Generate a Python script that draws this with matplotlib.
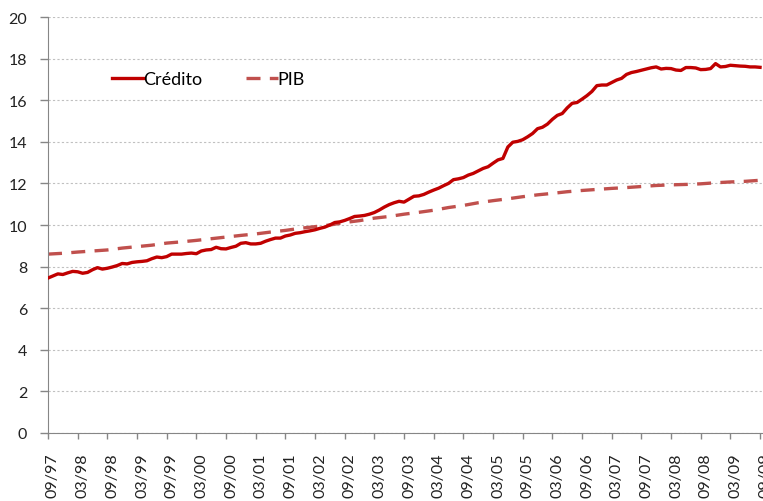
import matplotlib
matplotlib.use("Agg")
import matplotlib.pyplot as plt
import matplotlib.transforms as mtrans
import numpy as np

plt.rcParams['font.family'] = ['Lato', 'DejaVu Sans']

# Monthly Crédito values from 09/97 to 09/09
credito = [
    7.45, 7.55, 7.65, 7.62, 7.70, 7.77, 7.75, 7.68, 7.72, 7.85,
    7.95, 7.88, 7.92, 7.98, 8.05, 8.15, 8.13, 8.20, 8.23, 8.25,
    8.28, 8.38, 8.46, 8.43, 8.48, 8.60, 8.60, 8.60, 8.63, 8.65,
    8.62, 8.75, 8.80, 8.82, 8.93, 8.86, 8.85, 8.92, 8.98, 9.12,
    9.15, 9.09, 9.09, 9.12, 9.22, 9.30, 9.37, 9.37, 9.47, 9.52,
    9.60, 9.63, 9.68, 9.72, 9.77, 9.84, 9.90, 10.00, 10.12, 10.15,
    10.22, 10.31, 10.41, 10.43, 10.46, 10.52, 10.60, 10.72, 10.86, 10.98,
    11.07, 11.14, 11.10, 11.24, 11.38, 11.40, 11.47, 11.58, 11.68, 11.77,
    11.89, 12.00, 12.18, 12.22, 12.28, 12.40, 12.48, 12.60, 12.72, 12.80,
    12.97, 13.13, 13.20, 13.75, 13.98, 14.02, 14.10, 14.24, 14.40, 14.63,
    14.70, 14.85, 15.08, 15.27, 15.36, 15.63, 15.85, 15.89, 16.05, 16.22,
    16.42, 16.70, 16.73, 16.73, 16.85, 16.97, 17.05, 17.24, 17.33, 17.38,
    17.44, 17.50, 17.56, 17.60, 17.50, 17.53, 17.52, 17.45, 17.43, 17.57,
    17.57, 17.55, 17.47, 17.48, 17.52, 17.76, 17.60, 17.62, 17.68, 17.66,
    17.64, 17.63, 17.60, 17.60, 17.58,
]

# Quarterly PIB values from 09/97 to 09/09
pib = [
    8.60, 8.64, 8.70, 8.75, 8.80, 8.89, 8.96, 9.03, 9.13, 9.19,
    9.26, 9.34, 9.42, 9.50, 9.57, 9.66, 9.74, 9.84, 9.92, 10.00,
    10.12, 10.21, 10.33, 10.41, 10.52, 10.61, 10.71, 10.84, 10.94, 11.07,
    11.17, 11.26, 11.36, 11.45, 11.52, 11.60, 11.66, 11.71, 11.76, 11.80,
    11.85, 11.90, 11.93, 11.95, 11.98, 12.03, 12.07, 12.10, 12.15,
]

tick_labels = ["09/97", "03/98", "09/98", "03/99", "09/99", "03/00", "09/00",
               "03/01", "09/01", "03/02", "09/02", "03/03", "09/03", "03/04",
               "09/04", "03/05", "09/05", "03/06", "09/06", "03/07", "09/07",
               "03/08", "09/08", "03/09", "09/09"]

x_cred = np.arange(len(credito))
x_pib = np.arange(len(pib)) * 3

fig = plt.figure(figsize=(7.63, 5.02), dpi=100)
ax = fig.add_axes([48/763, 1-434/502, 715/763, (434-18)/502])

ax.plot(x_cred, credito, color='#C00000', lw=2.4, label='Crédito',
        solid_joinstyle='round', zorder=3)
ax.plot(x_pib, pib, color='#C0504D', lw=2.4, ls=(0, (4.2, 2.8)),
        label='PIB', zorder=2)

ax.set_xlim(0, 144.6)
ax.set_ylim(0, 20)
ax.set_yticks(np.arange(0, 21, 2))
ax.set_xticks(np.arange(0, 145, 6))
ax.set_xticklabels(tick_labels, rotation=90, fontsize=11.5, color='#222222')
ax.tick_params(axis='y', labelsize=11.5, colors='#222222', length=6,
               color='#868686', width=1, pad=9)
ax.tick_params(axis='x', length=4, color='#868686', width=1, pad=10)
offset = mtrans.ScaledTranslation(5/100, 0, fig.dpi_scale_trans)
for lab in ax.get_xticklabels():
    lab.set_transform(lab.get_transform() + offset)

ax.grid(axis='y', color='#C0C0C0', ls=(0, (2, 2)), lw=0.8)
ax.set_axisbelow(True)
for s in ['top', 'right']:
    ax.spines[s].set_visible(False)
ax.spines['left'].set_color('#868686')
ax.spines['bottom'].set_color('#868686')

leg = ax.legend(loc='center left', bbox_to_anchor=(112/763, 1-80/502),
                bbox_transform=fig.transFigure, ncol=2, frameon=False,
                fontsize=13, handlelength=1.75, handletextpad=0.0,
                columnspacing=2.4, borderaxespad=0, borderpad=0)

fig.savefig('out.png', dpi=100)
